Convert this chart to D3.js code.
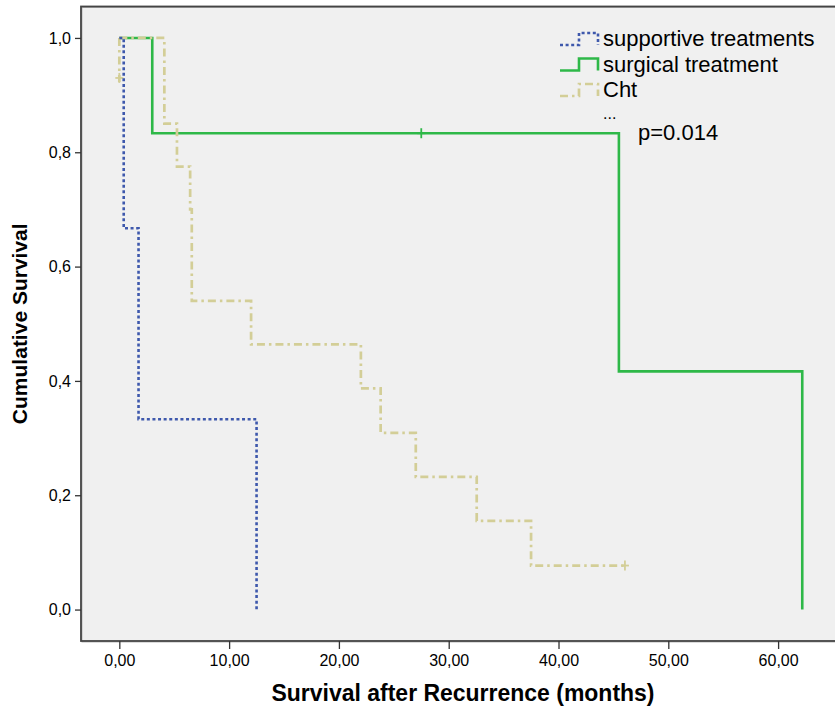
<!DOCTYPE html>
<html>
<head>
<meta charset="utf-8">
<script src="https://cdn.jsdelivr.net/npm/d3@7"></script>
<style>
  html, body { margin: 0; padding: 0; background: #ffffff; }
  svg { display: block; }
  text { font-family: "Liberation Sans", Arial, sans-serif; fill: #000; }
</style>
</head>
<body>
<div id="chart"></div>
<script>
// ---------------- data ----------------
const seriesNames = ["supportive treatments", "surgical treatment", "Cht"];
const seriesColors = ["#3E58AC", "#2EB848", "#D3CE97"];

// supportive treatments
const supportiveTimes = [0.4, 1.75, 12.5];
const supportiveSurv  = [0.667, 0.333, 0.0];
const supportiveEnd   = 12.5;
const supportiveCensorTimes = [];
const supportiveCensorSurv  = [];

// surgical treatment
const surgicalTimes = [3.0, 45.5, 62.2];
const surgicalSurv  = [0.8333, 0.4167, 0.0];
const surgicalEnd   = 62.2;
const surgicalCensorTimes = [27.5];
const surgicalCensorSurv  = [0.8333];

// Cht
const chtLeadTimes = [0, 0];
const chtLeadSurv  = [1.0, 0.923];
const chtTimes = [4.1, 5.25, 6.45, 6.6, 12.0, 22.0, 23.8, 27.0, 32.55, 37.5];
const chtSurv  = [0.85, 0.775, 0.70, 0.54, 0.464, 0.387, 0.309, 0.232, 0.155, 0.077];
const chtEnd   = 46.05;
const chtCensorTimes = [0, 46.05];
const chtCensorSurv  = [0.93, 0.077];

const xTickValues = [0, 10, 20, 30, 40, 50, 60];
const yTickValues = [0, 0.2, 0.4, 0.6, 0.8, 1.0];

const xTitle = "Survival after Recurrence (months)";
const yTitle = "Cumulative Survival";
const legendExtra = "...";
const pValueText = "p=0.014";

// ---------------- layout ----------------
const W = 835, H = 711;
const frame = { left: 81, top: 6.5, right: 840, bottom: 641 };

const x = d3.scaleLinear().domain([-3.49, 65.0]).range([81, 833]);
const y = d3.scaleLinear().domain([-0.055, 1.055]).range([frame.bottom, frame.top]);

const svg = d3.select("#chart").append("svg")
  .attr("width", W).attr("height", H);

// plot background + frame
svg.append("rect")
  .attr("x", frame.left).attr("y", frame.top)
  .attr("width", frame.right - frame.left).attr("height", frame.bottom - frame.top)
  .attr("fill", "#f0f0f0");
svg.append("rect")
  .attr("x", frame.left + 1).attr("y", frame.top + 1)
  .attr("width", frame.right - frame.left).attr("height", frame.bottom - frame.top)
  .attr("fill", "none").attr("stroke", "#b8b8b8").attr("stroke-width", 1);
svg.append("rect")
  .attr("x", frame.left).attr("y", frame.top)
  .attr("width", frame.right - frame.left).attr("height", frame.bottom - frame.top)
  .attr("fill", "none").attr("stroke", "#444").attr("stroke-width", 1.8);

// axes
const fmtX = d => d3.format(".2f")(d).replace(".", ",");
const fmtY = d => d3.format(".1f")(d).replace(".", ",");

const xAxis = svg.append("g")
  .attr("transform", `translate(0,${frame.bottom})`)
  .call(d3.axisBottom(x).tickValues(xTickValues).tickFormat(fmtX).tickSize(8).tickPadding(6));
xAxis.select(".domain").remove();
xAxis.selectAll(".tick line").attr("stroke", "#333").attr("stroke-width", 1.3);
xAxis.selectAll(".tick text").attr("font-size", 16).attr("font-family", "Liberation Sans, Arial, sans-serif").attr("fill", "#222");

const yAxis = svg.append("g")
  .attr("transform", `translate(${frame.left},0)`)
  .call(d3.axisLeft(y).tickValues(yTickValues).tickFormat(fmtY).tickSize(6).tickPadding(4));
yAxis.select(".domain").remove();
yAxis.selectAll(".tick line").attr("stroke", "#333").attr("stroke-width", 1.3);
yAxis.selectAll(".tick text").attr("font-size", 16).attr("font-family", "Liberation Sans, Arial, sans-serif").attr("fill", "#222");

// axis titles
svg.append("text")
  .attr("x", 463).attr("y", 701)
  .attr("text-anchor", "middle").attr("font-weight", "bold").attr("font-size", 23)
  .attr("textLength", 383).attr("lengthAdjust", "spacingAndGlyphs")
  .text(xTitle);
svg.append("text")
  .attr("transform", `translate(27,${(frame.top + frame.bottom) / 2}) rotate(-90)`)
  .attr("text-anchor", "middle").attr("font-weight", "bold").attr("font-size", 21)
  .text(yTitle);

// ---------------- curves ----------------
function stepPoints(times, surv, endT) {
  const pts = [[0, 1]];
  let prev = 1;
  times.forEach((t, i) => {
    pts.push([t, prev]);
    pts.push([t, surv[i]]);
    prev = surv[i];
  });
  const lastT = times[times.length - 1];
  if (endT > lastT) pts.push([endT, prev]);
  return pts;
}

const line = d3.line().x(d => x(d[0])).y(d => y(d[1]));

const styles = [
  { width: 2.6, dash: "3,2.6", cap: "butt" },
  { width: 2.6, dash: null, cap: "butt" },
  { width: 2.7, dash: "8,4,2.5,4", cap: "butt" }
];

const curves = [
  { idx: 1, pts: stepPoints(surgicalTimes, surgicalSurv, surgicalEnd),
    cT: surgicalCensorTimes, cS: surgicalCensorSurv },
  { idx: 2, pts: stepPoints(chtTimes, chtSurv, chtEnd),
    lead: chtLeadTimes.map((t, i) => [t, chtLeadSurv[i]]),
    cT: chtCensorTimes, cS: chtCensorSurv },
  { idx: 0, pts: stepPoints(supportiveTimes, supportiveSurv, supportiveEnd),
    cT: supportiveCensorTimes, cS: supportiveCensorSurv }
];

curves.forEach(c => {
  const st = styles[c.idx];
  const col = seriesColors[c.idx];
  const g = svg.append("g");
  const paths = [c.pts];
  if (c.lead) paths.push(c.lead);
  paths.forEach(p => {
    g.append("path").attr("d", line(p))
      .attr("fill", "none").attr("stroke", col)
      .attr("stroke-width", st.width)
      .attr("stroke-dasharray", st.dash)
      .attr("stroke-linecap", st.cap)
      .attr("stroke-linejoin", "miter");
  });
  c.cT.forEach((t, i) => {
    const cx = x(t), cy = y(c.cS[i]);
    g.append("line").attr("x1", cx - 4).attr("x2", cx + 4).attr("y1", cy).attr("y2", cy)
      .attr("stroke", col).attr("stroke-width", 1.8);
    g.append("line").attr("x1", cx).attr("x2", cx).attr("y1", cy - 5).attr("y2", cy + 5)
      .attr("stroke", col).attr("stroke-width", 1.8);
  });
});

// ---------------- legend ----------------
const legendRows = [46, 71.5, 97];
const legend = svg.append("g");
seriesNames.forEach((name, i) => {
  const st = styles[i];
  const base = legendRows[i];
  const c = base - 7;
  const icon = [[560, c + 6], [579, c + 6], [579, c - 6], [598, c - 6], [598, c + 6]];
  legend.append("path")
    .attr("d", d3.line()(icon))
    .attr("fill", "none").attr("stroke", seriesColors[i])
    .attr("stroke-width", st.width).attr("stroke-dasharray", st.dash);
  legend.append("text").attr("x", 603).attr("y", base)
    .attr("font-size", 22).attr("fill", "#111").text(name);
});
legend.append("text").attr("x", 603).attr("y", 119)
  .attr("font-size", 16).attr("fill", "#111").text(legendExtra);
legend.append("text").attr("x", 638).attr("y", 140)
  .attr("font-size", 22).attr("fill", "#111").text(pValueText);
</script>
</body>
</html>
